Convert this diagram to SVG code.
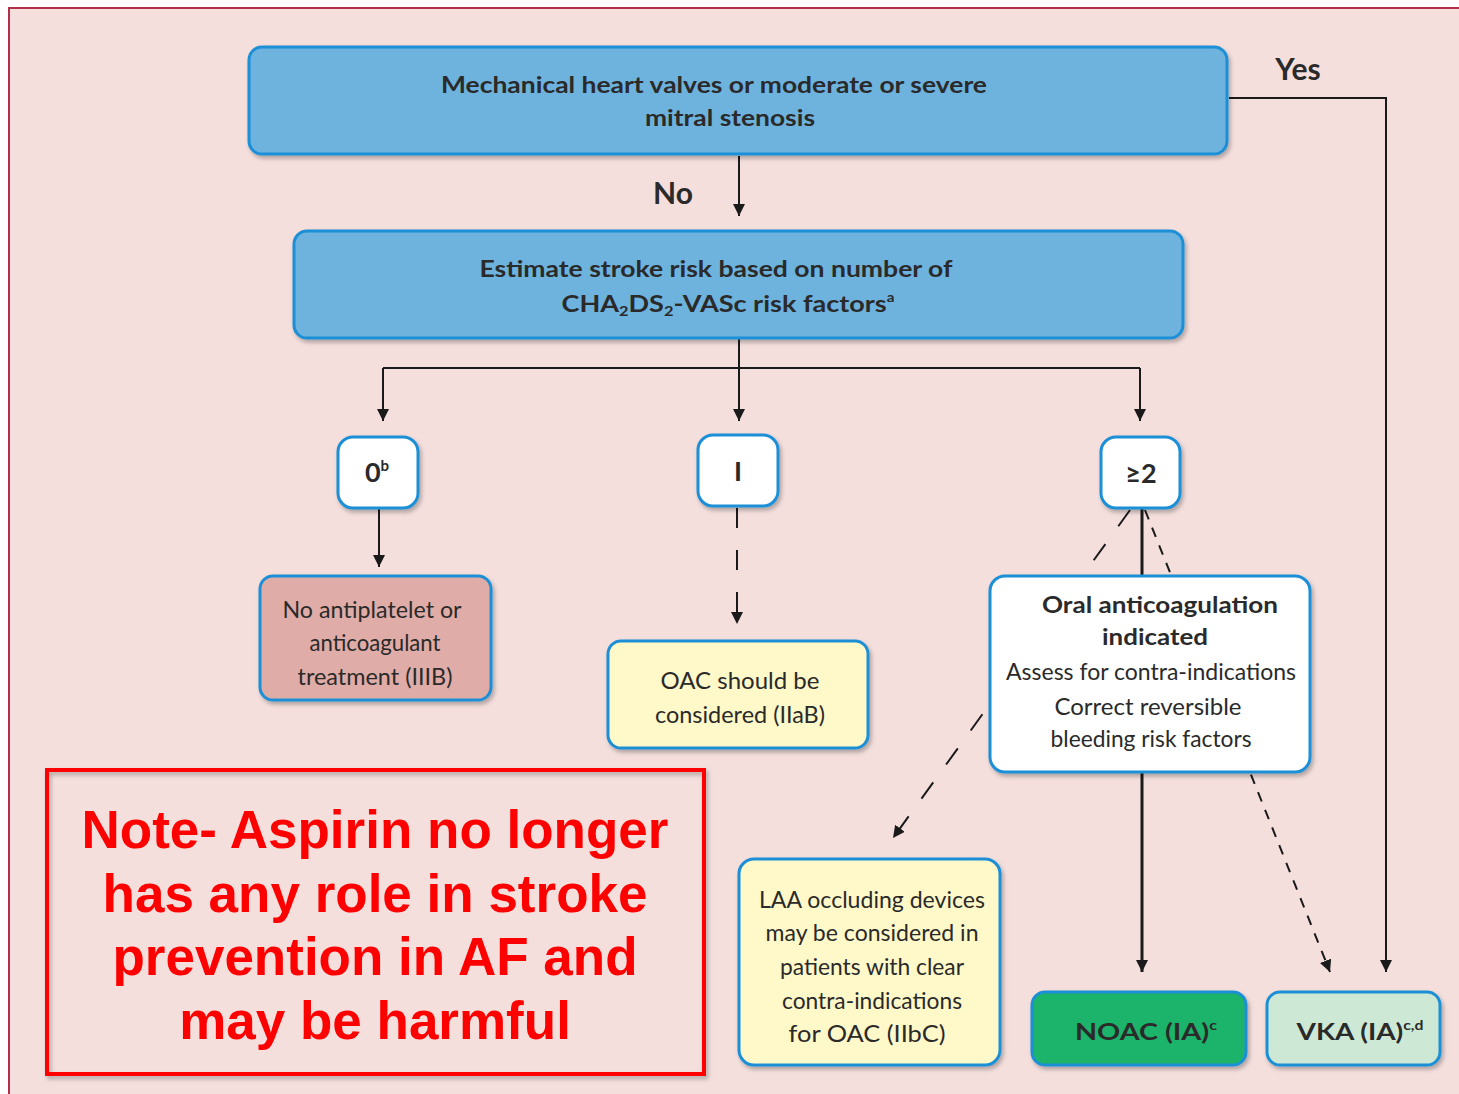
<svg xmlns="http://www.w3.org/2000/svg" width="1459" height="1094" viewBox="0 0 1459 1094">
<defs>
<filter id="sh" x="-10%" y="-10%" width="120%" height="130%">
<feDropShadow dx="2" dy="3" stdDeviation="2" flood-color="#000" flood-opacity="0.28"/>
</filter>
<marker id="ah" markerUnits="userSpaceOnUse" markerWidth="14" markerHeight="14" refX="12" refY="6" orient="auto">
<path d="M0,0 L12,6 L0,12 z" fill="#1a1a1a"/>
</marker>
</defs>
<style>
.box{stroke:#1a8fd6;stroke-width:3;filter:url(#sh)}
.blue{fill:#6db3de}
.white{fill:#ffffff}
.salmon{fill:#e0aca7}
.yellow{fill:#fff8c8}
.green{fill:#1cb36b}
.lgreen{fill:#cde9d6}
.t{font-family:Lato,"Open Sans","Liberation Sans",sans-serif;fill:#2a2a2a;text-anchor:middle;font-size:23px}
.b{font-weight:bold}
.big{font-size:27px}
.lbl{font-family:Lato,"Liberation Sans",sans-serif;fill:#2a2a2a;font-size:30px;font-weight:bold;text-anchor:middle}
.note{font-family:"Liberation Sans",Arial,sans-serif;fill:#ff0000;font-size:53px;font-weight:bold;text-anchor:middle}
.c{fill:none;stroke:#1a1a1a;stroke-width:2}
.cs{fill:none;stroke:#1a1a1a;stroke-width:3}
.d{fill:none;stroke:#1a1a1a;stroke-width:2;stroke-dasharray:20 22}
.df{fill:none;stroke:#1a1a1a;stroke-width:2;stroke-dasharray:10 9}
</style>
<rect x="0" y="0" width="1459" height="1094" fill="#ffffff"/>
<rect x="9" y="8" width="1470" height="1100" fill="#f4dfdd" stroke="#b0304a" stroke-width="2"/>

<g id="connectors">
<path class="c" d="M739,156 L739,216" marker-end="url(#ah)"/>
<path class="c" d="M1229,98 L1386,98 L1386,972" marker-end="url(#ah)"/>
<path class="c" d="M739,338 L739,421" marker-end="url(#ah)"/>
<path class="c" d="M383,368 L1140,368"/>
<path class="c" d="M383,368 L383,421" marker-end="url(#ah)"/>
<path class="c" d="M1140,368 L1140,421" marker-end="url(#ah)"/>
<path class="c" d="M379,508 L379,567" marker-end="url(#ah)"/>
<path class="d" d="M737,508 L737,624" marker-end="url(#ah)"/>
<path class="cs" d="M1142,508 L1142,576"/>
<path class="cs" d="M1142,773 L1142,972" marker-end="url(#ah)"/>
<path class="df" d="M1145,510 L1330,972" marker-end="url(#ah)"/>
<path class="d" d="M1130,510 L893,838" marker-end="url(#ah)"/>
<text class="lbl" x="1298" y="80">Yes</text>
<text class="lbl" x="673" y="204">No</text>
</g>

<g id="n-valves">
<rect class="box blue" x="249" y="47" width="978" height="107" rx="13"/>
<text class="t b" x="714" y="93" textLength="546" lengthAdjust="spacingAndGlyphs">Mechanical heart valves or moderate or severe</text>
<text class="t b" x="730" y="126" textLength="170" lengthAdjust="spacingAndGlyphs">mitral stenosis</text>
</g>

<g id="n-estimate">
<rect class="box blue" x="294" y="231" width="889" height="107" rx="13"/>
<text class="t b" x="716" y="277" textLength="473" lengthAdjust="spacingAndGlyphs">Estimate stroke risk based on number of</text>
<text class="t b" x="728" y="312" textLength="333" lengthAdjust="spacingAndGlyphs">CHA<tspan font-size="14" dy="4">2</tspan><tspan dy="-4">DS</tspan><tspan font-size="14" dy="4">2</tspan><tspan dy="-4">-VASc risk factors</tspan><tspan font-size="13" dy="-10">a</tspan></text>
</g>

<g id="n-zero">
<rect class="box white" x="338" y="437" width="80" height="71" rx="15"/>
<text class="t b big" x="377" y="482">0<tspan font-size="15" dy="-11">b</tspan></text>
</g>

<g id="n-one">
<rect class="box white" x="698" y="435" width="80" height="71" rx="15"/>
<text class="t b big" x="738" y="481">I</text>
</g>

<g id="n-two">
<rect class="box white" x="1101" y="437" width="79" height="71" rx="15"/>
<text class="t b big" x="1141" y="483">≥2</text>
</g>

<g id="n-none">
<rect class="box salmon" x="260" y="576" width="231" height="124" rx="13"/>
<text class="t" x="372" y="618" textLength="179" lengthAdjust="spacingAndGlyphs">No antiplatelet or</text>
<text class="t" x="375" y="651" textLength="131" lengthAdjust="spacingAndGlyphs">anticoagulant</text>
<text class="t" x="375" y="685" textLength="155" lengthAdjust="spacingAndGlyphs">treatment (IIIB)</text>
</g>

<g id="n-oac-consider">
<rect class="box yellow" x="608" y="641" width="260" height="107" rx="13"/>
<text class="t" x="740" y="689" textLength="159" lengthAdjust="spacingAndGlyphs">OAC should be</text>
<text class="t" x="740" y="723" textLength="170" lengthAdjust="spacingAndGlyphs">considered (IIaB)</text>
</g>

<g id="n-oral">
<rect class="box white" x="990" y="576" width="320" height="196" rx="15"/>
<text class="t b" x="1160" y="613" textLength="236" lengthAdjust="spacingAndGlyphs">Oral anticoagulation</text>
<text class="t b" x="1155" y="645" textLength="106" lengthAdjust="spacingAndGlyphs">indicated</text>
<text class="t" x="1151" y="680" textLength="290" lengthAdjust="spacingAndGlyphs">Assess for contra-indications</text>
<text class="t" x="1148" y="715" textLength="187" lengthAdjust="spacingAndGlyphs">Correct reversible</text>
<text class="t" x="1151" y="747" textLength="201" lengthAdjust="spacingAndGlyphs">bleeding risk factors</text>
</g>

<g id="n-laa">
<rect class="box yellow" x="739" y="859" width="261" height="206" rx="15"/>
<text class="t" x="872" y="908" textLength="226" lengthAdjust="spacingAndGlyphs">LAA occluding devices</text>
<text class="t" x="872" y="941" textLength="213" lengthAdjust="spacingAndGlyphs">may be considered in</text>
<text class="t" x="872" y="975" textLength="184" lengthAdjust="spacingAndGlyphs">patients with clear</text>
<text class="t" x="872" y="1009" textLength="180" lengthAdjust="spacingAndGlyphs">contra-indications</text>
<text class="t" x="867" y="1042" textLength="157" lengthAdjust="spacingAndGlyphs">for OAC (IIbC)</text>
</g>

<g id="n-noac">
<rect class="box green" x="1032" y="992" width="214" height="73" rx="13"/>
<text class="t b" x="1146" y="1040" textLength="142" lengthAdjust="spacingAndGlyphs">NOAC (IA)<tspan font-size="13" dy="-10">c</tspan></text>
</g>

<g id="n-vka">
<rect class="box lgreen" x="1267" y="992" width="173" height="73" rx="13"/>
<text class="t b" x="1360" y="1040" textLength="127" lengthAdjust="spacingAndGlyphs">VKA (IA)<tspan font-size="13" dy="-10">c,d</tspan></text>
</g>

<g id="n-note">
<rect x="47" y="770" width="657" height="304" fill="none" stroke="#ff0000" stroke-width="4" filter="url(#sh)"/>
<text class="note" x="375" y="848">Note- Aspirin no longer</text>
<text class="note" x="375" y="912">has any role in stroke</text>
<text class="note" x="375" y="975">prevention in AF and</text>
<text class="note" x="375" y="1039">may be harmful</text>
</g>
</svg>
